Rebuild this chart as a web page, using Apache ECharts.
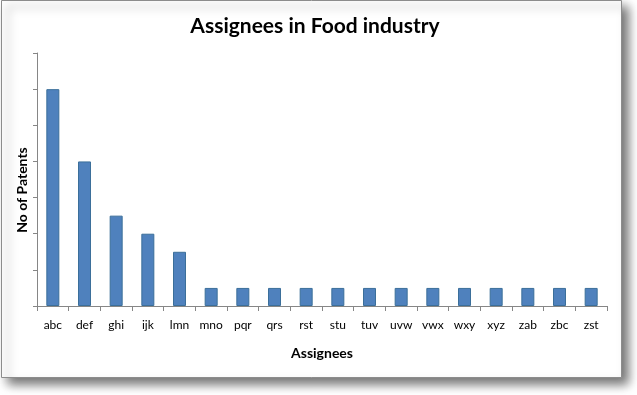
<!DOCTYPE html>
<html><head><meta charset="utf-8">
<script src="https://cdn.jsdelivr.net/npm/echarts@6/dist/echarts.min.js"></script>
<style>html,body{margin:0;padding:0;background:#fff}#c{width:637px;height:395px}</style>
</head><body><div id="c"></div>
<script>
const categories = ['abc','def','ghi','ijk','lmn','mno','pqr','qrs','rst','stu','tuv','uvw','vwx','wxy','xyz','zab','zbc','zst'];
const patents = [12, 8, 5, 4, 3, 1, 1, 1, 1, 1, 1, 1, 1, 1, 1, 1, 1, 1];
const titleText = 'Assignees in Food industry';
const xName = 'Assignees';
const yName = 'No of Patents';

const chart = echarts.init(document.getElementById('c'), null, {renderer: 'canvas'});
const font = 'Lato, "Open Sans", sans-serif';
chart.setOption({
  animation: false,
  graphic: [{
    type: 'rect', z: -10,
    shape: {x: 1.5, y: 0.5, width: 620, height: 377},
    style: {fill: '#fff', stroke: '#8c8c8c', lineWidth: 1,
      shadowBlur: 10, shadowOffsetX: 6, shadowOffsetY: 6, shadowColor: 'rgba(0,0,0,0.55)'}
  }, {
    type: 'text', x: 22, y: 190, rotation: Math.PI / 2,
    style: {text: yName, fontFamily: font, fontWeight: 'bold', fontSize: 14, fill: '#000',
      align: 'center', verticalAlign: 'middle'}
  }],
  title: {
    text: titleText, left: 310, top: 11, textAlign: 'center',
    textStyle: {fontFamily: font, fontWeight: 'bold', fontSize: 21, color: '#000'}
  },
  grid: {left: 37, right: 30, top: 53, bottom: 89},
  xAxis: {
    type: 'category', data: categories,
    axisLine: {lineStyle: {color: '#868686'}},
    axisTick: {show: true, alignWithLabel: false, length: 5, lineStyle: {color: '#868686'}},
    axisLabel: {margin: 13, fontFamily: font, fontSize: 12, color: '#000', interval: 0},
    name: xName, nameLocation: 'middle', nameGap: 40,
    nameTextStyle: {fontFamily: font, fontWeight: 'bold', fontSize: 14, color: '#000'}
  },
  yAxis: {
    type: 'value', min: 0, max: 14, interval: 2,
    axisLine: {show: true, lineStyle: {color: '#868686'}},
    axisTick: {show: true, length: 4, lineStyle: {color: '#868686'}},
    axisLabel: {show: false},
    splitLine: {show: false}
  },
  series: [{
    type: 'bar', data: patents, barWidth: 13,
    itemStyle: {color: '#4F81BD', borderColor: '#3B6F9A', borderWidth: 1}
  }]
});
</script></body></html>
